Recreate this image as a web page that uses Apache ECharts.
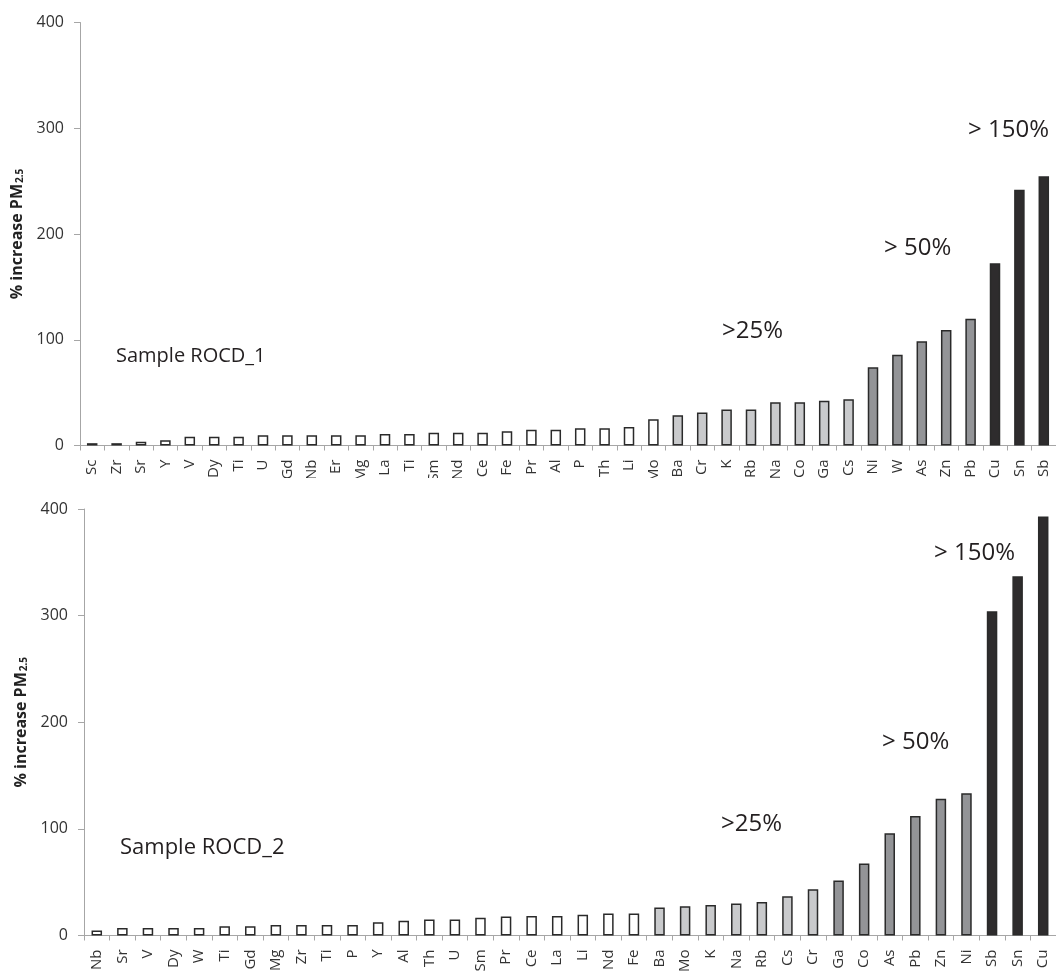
<!DOCTYPE html>
<html>
<head>
<meta charset="utf-8">
<script src="https://cdn.jsdelivr.net/npm/echarts@6/dist/echarts.min.js"></script>
<style>
  html, body { margin: 0; padding: 0; background: #ffffff; }
  #chart { width: 1056px; height: 975px; }
</style>
</head>
<body>
<div id="chart"></div>
<script>
// Sample ROCD_1: elements sorted by % increase in PM2.5
const elements1 = ['Sc','Zr','Sr','Y','V','Dy','Ti','U','Gd','Nb','Er','Mg','La','Ti','Sm','Nd','Ce','Fe','Pr','Al',
                   'P','Th','Li','Mo','Ba','Cr','K','Rb','Na','Co','Ga','Cs','Ni','W','As','Zn','Pb','Cu','Sn','Sb'];
const increase1 = [2.2, 2.2, 3.5, 5, 8.3, 8.3, 8.3, 9.6, 9.6, 9.6, 9.6, 9.6, 10.9, 10.9, 12.1, 12.1, 12.1, 13.4, 15, 15,
                   16.2, 16.2, 17.5, 24.8, 28.7, 31.2, 34, 34, 40.9, 40.9, 42.3, 43.7, 73.9, 85.9, 98.5, 109.2, 119.9, 172.3, 241.9, 254.6];

// Sample ROCD_2
const elements2 = ['Nb','Sr','V','Dy','W','Ti','Gd','Mg','Zr','Ti','P','Y','Al','Th','U','Sm','Pr','Ce','La','Li',
                   'Nd','Fe','Ba','Mo','K','Na','Rb','Cs','Cr','Ga','Co','As','Pb','Zn','Ni','Sb','Sn','Cu'];
const increase2 = [4.6, 7.1, 7.1, 7.1, 7.1, 8.6, 8.6, 9.9, 9.9, 9.9, 9.9, 12.3, 13.9, 15.1, 15.1, 16.6, 17.9, 18.2, 18.2, 19.4,
                   20.7, 20.7, 26.2, 27.4, 28.7, 29.9, 31.4, 36.7, 43.4, 51.5, 67.5, 96, 112.1, 128.2, 133.4, 304, 337, 393];

// Enrichment bands and their fills: <=25%, >25%, >50%, >150%
const bandLimits = [25, 50, 150];
const bandColors = ['#ffffff', '#c9cacc', '#939497', '#2e2c2d'];

const yTicks = [0, 100, 200, 300, 400];

function bandColor(v) {
  let i = 0;
  while (i < bandLimits.length && v > bandLimits[i]) i++;
  return bandColors[i];
}

const FONT = '"Open Sans", "Noto Sans", sans-serif';
const axisGray = '#a6a6a6';

function xAxisFor(idx, cats) {
  return {
    type: 'category',
    gridIndex: idx,
    data: cats,
    boundaryGap: true,
    axisLine: { show: true, lineStyle: { color: axisGray, width: 1 } },
    axisTick: { show: true, inside: false, length: 5, alignWithLabel: false, interval: 0,
                lineStyle: { color: axisGray, width: 1 } },
    axisLabel: { interval: 0, rotate: 90, margin: 14, fontSize: 15, fontFamily: FONT, color: '#333333' },
    splitLine: { show: false }
  };
}

function yAxisFor(idx) {
  return {
    type: 'value',
    gridIndex: idx,
    min: yTicks[0],
    max: yTicks[yTicks.length - 1],
    interval: yTicks[1] - yTicks[0],
    name: '% increase PM{s|2.5}',
    nameLocation: 'middle',
    nameRotate: 90,
    nameGap: 52,
    nameTextStyle: {
      fontFamily: FONT, fontWeight: 'bold', fontSize: 16, color: '#222222',
      rich: { s: { fontFamily: FONT, fontWeight: 'bold', fontSize: 10, color: '#222222', verticalAlign: 'bottom', padding: [6, 0, 0, 1] } }
    },
    axisLine: { show: true, lineStyle: { color: axisGray, width: 1 } },
    axisTick: { show: true, inside: false, length: 6, lineStyle: { color: axisGray, width: 1 } },
    axisLabel: { margin: 16, fontSize: 16, fontFamily: FONT, color: '#333333' },
    splitLine: { show: false }
  };
}

function barSeries(idx, values) {
  return {
    type: 'bar',
    xAxisIndex: idx,
    yAxisIndex: idx,
    data: values,
    barWidth: 10.5,
    animation: false,
    itemStyle: {
      color: (p) => bandColor(p.value),
      borderColor: '#2a2a2a',
      borderWidth: 1.5
    }
  };
}

function note(text, x, y, size) {
  return {
    type: 'text', x: x, y: y, z: 50,
    style: { text: text, font: size + 'px ' + FONT, fill: '#231f20', align: 'left', verticalAlign: 'middle' }
  };
}

const chart = echarts.init(document.getElementById('chart'), null, { renderer: 'canvas' });
chart.setOption({
  backgroundColor: '#ffffff',
  animation: false,
  grid: [
    { left: 80, top: 22.5, width: 987, height: 423, containLabel: false },
    { left: 84, top: 509, width: 978, height: 432.5, containLabel: false }
  ],
  xAxis: [xAxisFor(0, elements1), xAxisFor(1, elements2)],
  yAxis: [yAxisFor(0), yAxisFor(1)],
  series: [barSeries(0, increase1), barSeries(1, increase2)],
  graphic: [
    // upper panel ends here; its lowest axis labels are trimmed
    { type: 'rect', shape: { x: 0, y: 478, width: 1056, height: 20 }, style: { fill: '#ffffff' }, z: 40 },
    note('Sample ROCD_1', 116, 356, 20),
    note('>25%', 722, 331, 24),
    note('> 50%', 884, 248, 24),
    note('> 150%', 968, 130, 24),
    note('Sample ROCD_2', 120, 848, 22),
    note('>25%', 721, 824, 24),
    note('> 50%', 882, 742, 24),
    note('> 150%', 934, 553, 24)
  ]
});
</script>
</body>
</html>
